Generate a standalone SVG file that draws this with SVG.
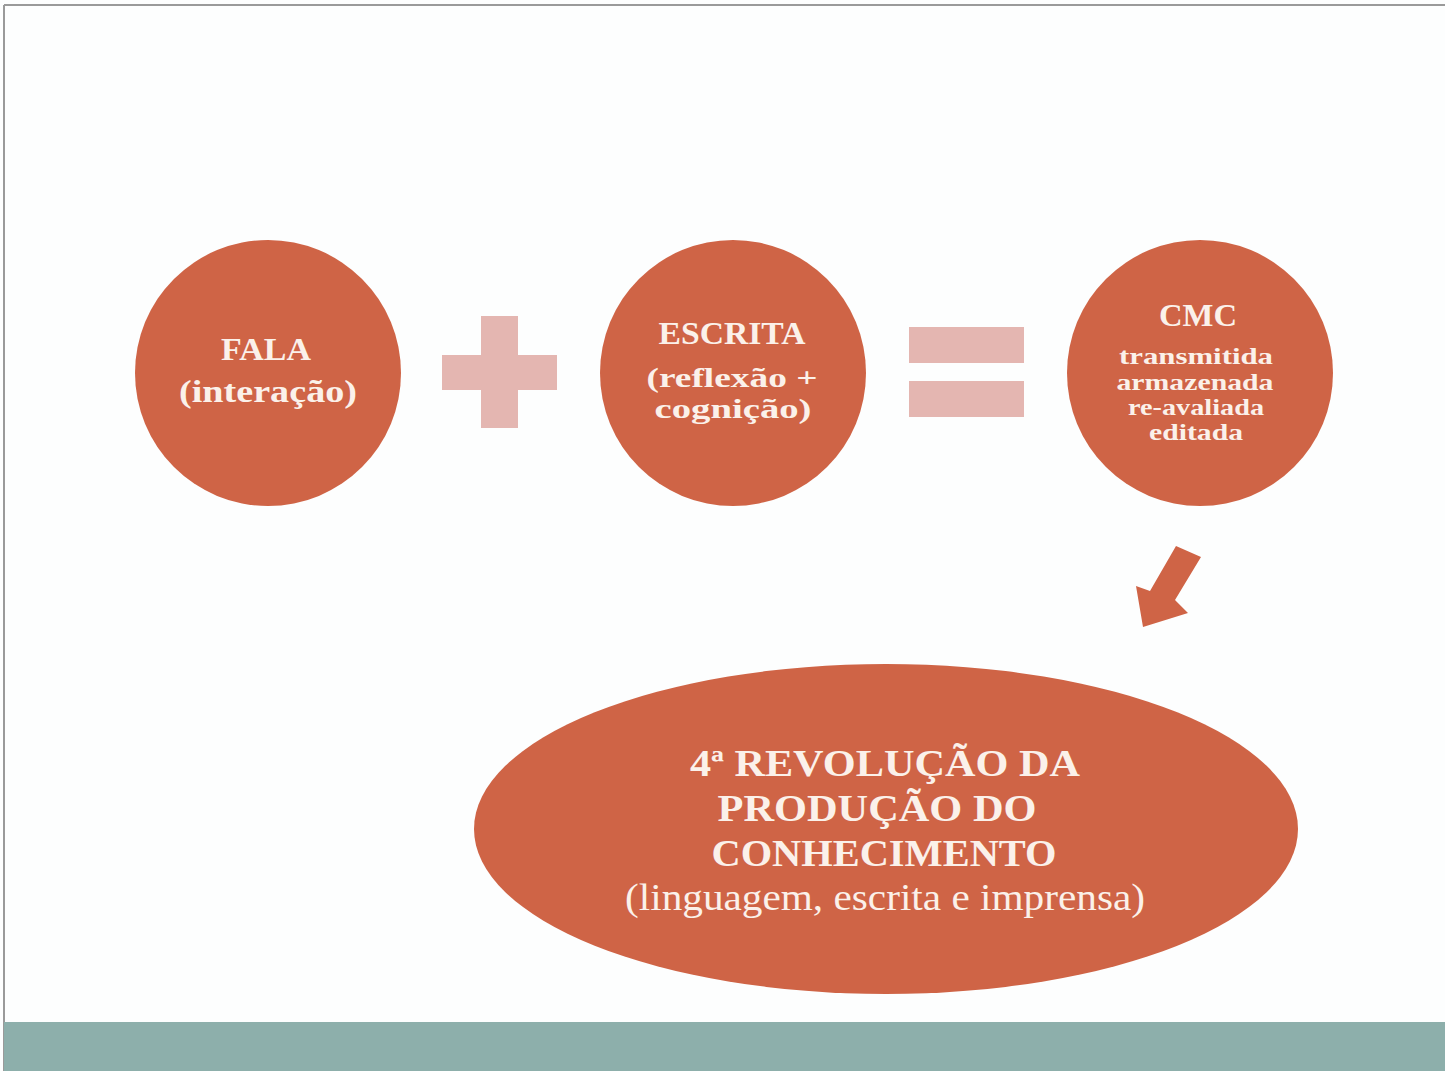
<svg xmlns="http://www.w3.org/2000/svg" width="1445" height="1071" viewBox="0 0 1445 1071">
<style>
.node{fill:#CF6446}
.op{fill:#E4B6B1}
.t{font-family:"Liberation Serif","Times New Roman",serif;font-weight:bold;fill:#FBF1EA;text-anchor:middle}
.tn{font-family:"Liberation Serif","Times New Roman",serif;fill:#FBF1EA;text-anchor:middle}
</style>
<rect x="0" y="0" width="1445" height="1071" fill="#FDFEFE"/>
<line x1="4" y1="5" x2="1445" y2="5" stroke="#9A9A9A" stroke-width="2"/>
<line x1="4" y1="5" x2="4" y2="1071" stroke="#9A9A9A" stroke-width="2"/>
<rect x="4" y="1022" width="1441" height="49" fill="#8DAFAB"/>
<g id="fala">
<circle class="node" cx="268" cy="373" r="133"/>
<text class="t" x="266" y="360" font-size="32" textLength="90" lengthAdjust="spacingAndGlyphs">FALA</text>
<text class="t" x="268" y="402" font-size="32" textLength="178" lengthAdjust="spacingAndGlyphs">(interação)</text>
</g>
<g id="plus">
<rect class="op" x="481" y="316" width="37" height="112"/>
<rect class="op" x="442" y="355" width="115" height="35"/>
</g>
<g id="escrita">
<circle class="node" cx="733" cy="373" r="133"/>
<text class="t" x="732" y="344" font-size="31" textLength="147" lengthAdjust="spacingAndGlyphs">ESCRITA</text>
<text class="t" x="732" y="387" font-size="28" textLength="171" lengthAdjust="spacingAndGlyphs">(reflexão +</text>
<text class="t" x="733" y="418" font-size="28" textLength="157" lengthAdjust="spacingAndGlyphs">cognição)</text>
</g>
<g id="equals">
<rect class="op" x="909" y="327" width="115" height="36"/>
<rect class="op" x="909" y="381" width="115" height="36"/>
</g>
<g id="cmc">
<circle class="node" cx="1200" cy="373" r="133"/>
<text class="t" x="1198" y="326" font-size="31" textLength="78" lengthAdjust="spacingAndGlyphs">CMC</text>
<text class="t" x="1196" y="364" font-size="24" textLength="154" lengthAdjust="spacingAndGlyphs">transmitida</text>
<text class="t" x="1195" y="390" font-size="24" textLength="157" lengthAdjust="spacingAndGlyphs">armazenada</text>
<text class="t" x="1196" y="415" font-size="24" textLength="136" lengthAdjust="spacingAndGlyphs">re-avaliada</text>
<text class="t" x="1196" y="440" font-size="24" textLength="94" lengthAdjust="spacingAndGlyphs">editada</text>
</g>
<g id="connectors">
<polygon class="node" points="1176,546 1201,557 1175,600 1188,613 1143,627 1136,586 1150,591"/>
</g>
<g id="revolucao">
<ellipse class="node" cx="886" cy="829" rx="412" ry="165"/>
<text class="t" x="885" y="776" font-size="38" textLength="390" lengthAdjust="spacingAndGlyphs">4ª  REVOLUÇÃO DA</text>
<text class="t" x="877" y="821" font-size="38" textLength="319" lengthAdjust="spacingAndGlyphs">PRODUÇÃO DO</text>
<text class="t" x="884" y="866" font-size="38" textLength="345" lengthAdjust="spacingAndGlyphs">CONHECIMENTO</text>
<text class="tn" x="885" y="910" font-size="38" textLength="520" lengthAdjust="spacingAndGlyphs">(linguagem, escrita e imprensa)</text>
</g>
</svg>
